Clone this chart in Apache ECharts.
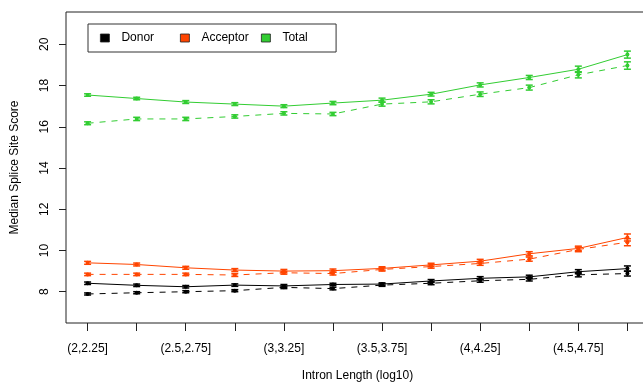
<!DOCTYPE html>
<html>
<head>
<meta charset="utf-8">
<script src="https://cdn.jsdelivr.net/npm/echarts@6/dist/echarts.min.js"></script>
<style>html,body{margin:0;padding:0;background:#fff}#c{width:643px;height:383px}</style>
</head>
<body>
<div id="c"></div>
<script>
const categories = ['(2,2.25]','(2.25,2.5]','(2.5,2.75]','(2.75,3]','(3,3.25]','(3.25,3.5]','(3.5,3.75]','(3.75,4]','(4,4.25]','(4.25,4.5]','(4.5,4.75]','(4.75,5]'];
const yTicks = [8, 10, 12, 14, 16, 18, 20];
const xLabelIdx = [1, 3, 5, 7, 9, 11];
const legendNames = ['Donor', 'Acceptor', 'Total'];

const donorSolid     = [8.41, 8.31, 8.24, 8.32, 8.28, 8.35, 8.37, 8.52, 8.65, 8.72, 8.97, 9.12];
const donorSolidErr  = [0.06, 0.06, 0.06, 0.06, 0.07, 0.06, 0.06, 0.07, 0.08, 0.08, 0.10, 0.13];
const donorDashed    = [7.89, 7.95, 8.00, 8.05, 8.21, 8.15, 8.32, 8.41, 8.53, 8.60, 8.82, 8.88];
const donorDashedErr = [0.05, 0.05, 0.05, 0.05, 0.06, 0.06, 0.06, 0.07, 0.07, 0.08, 0.10, 0.12];

const acceptorSolid     = [9.40, 9.32, 9.16, 9.05, 9.00, 9.02, 9.13, 9.30, 9.48, 9.84, 10.10, 10.63];
const acceptorSolidErr  = [0.07, 0.07, 0.07, 0.07, 0.08, 0.08, 0.08, 0.08, 0.09, 0.10, 0.11, 0.17];
const acceptorDashed    = [8.84, 8.84, 8.84, 8.81, 8.92, 8.88, 9.08, 9.22, 9.37, 9.58, 10.05, 10.40];
const acceptorDashedErr = [0.06, 0.06, 0.06, 0.07, 0.07, 0.07, 0.08, 0.08, 0.09, 0.10, 0.11, 0.17];

const totalSolid     = [17.54, 17.37, 17.20, 17.10, 17.00, 17.15, 17.29, 17.58, 18.03, 18.39, 18.79, 19.50];
const totalSolidErr  = [0.06, 0.06, 0.07, 0.07, 0.07, 0.08, 0.10, 0.09, 0.10, 0.10, 0.15, 0.17];
const totalDashed    = [16.17, 16.38, 16.38, 16.50, 16.65, 16.62, 17.10, 17.21, 17.58, 17.90, 18.52, 18.97];
const totalDashedErr = [0.07, 0.08, 0.08, 0.08, 0.08, 0.08, 0.10, 0.10, 0.11, 0.12, 0.15, 0.18];

const COLORS = { Donor: '#000000', Acceptor: '#FF4500', Total: '#32CD32' };
const FONT = '"Liberation Sans", Arial, Helvetica, sans-serif';

function pts(vals) { return vals.map((v, i) => [i + 1, v]); }
function errPts(vals, errs) { return vals.map((v, i) => [i + 1, v, errs[i]]); }

function lineSeries(name, vals, dashed) {
  return {
    type: 'line', name: name, data: pts(vals), symbol: 'none', silent: true,
    lineStyle: { color: COLORS[name], width: 1, type: dashed ? [6, 6] : 'solid' },
    itemStyle: { color: COLORS[name] }, z: 2
  };
}
function errSeries(name, vals, errs) {
  const color = COLORS[name];
  return {
    type: 'custom', data: errPts(vals, errs), silent: true, z: 3,
    renderItem: function (params, api) {
      const x = api.value(0), y = api.value(1), e = api.value(2);
      const lo = api.coord([x, y - e]), hi = api.coord([x, y + e]), c = api.coord([x, y]);
      const hw = 3.5;
      const st = { stroke: color, lineWidth: 1.5 };
      return { type: 'group', children: [
        { type: 'line', shape: { x1: lo[0], y1: lo[1], x2: hi[0], y2: hi[1] }, style: st },
        { type: 'line', shape: { x1: lo[0] - hw, y1: lo[1], x2: lo[0] + hw, y2: lo[1] }, style: st },
        { type: 'line', shape: { x1: hi[0] - hw, y1: hi[1], x2: hi[0] + hw, y2: hi[1] }, style: st },
        { type: 'circle', shape: { cx: c[0], cy: c[1], r: 2 }, style: { fill: color } }
      ]};
    }
  };
}

function legendFor(name, left, padding, boxed) {
  return {
    left: left, top: 24, orient: 'horizontal', selectedMode: false,
    itemWidth: 9, itemHeight: 8, itemGap: 0, padding: padding,
    borderColor: boxed ? '#333' : 'transparent', borderWidth: boxed ? 1 : 0, borderRadius: 0,
    textStyle: { fontSize: 12, color: '#000', fontFamily: FONT, padding: [0, 0, 0, 7] },
    data: [{ name: name, icon: 'rect', itemStyle: { color: COLORS[name], borderColor: '#222', borderWidth: 0.8 } }]
  };
}

const chart = echarts.init(document.getElementById('c'), null, { renderer: 'canvas' });
chart.setOption({
  animation: false,
  backgroundColor: '#fff',
  textStyle: { fontFamily: FONT },
  grid: { left: 66, top: 12, right: -6, bottom: 60, show: true, borderColor: '#222', borderWidth: 1,
    containLabel: false, outerBoundsMode: 'none' },
  legend: [
    legendFor(legendNames[0], 88, [8, 182, 8, 12], true),
    legendFor(legendNames[1], 180, [8, 0, 8, 0], false),
    legendFor(legendNames[2], 261, [8, 0, 8, 0], false)
  ],
  xAxis: {
    type: 'value', min: 0.56, max: 12.44,
    name: 'Intron Length (log10)', nameLocation: 'middle', nameGap: 47,
    nameTextStyle: { fontSize: 12, color: '#000', fontFamily: FONT },
    axisLine: { show: false }, splitLine: { show: false },
    axisTick: { show: true, inside: false, length: 8, customValues: categories.map((c, i) => i + 1), lineStyle: { color: '#222', width: 1 } },
    axisLabel: { show: true, customValues: xLabelIdx, margin: 20, fontSize: 12, color: '#000', fontFamily: FONT,
      formatter: v => categories[Math.round(v) - 1] }
  },
  yAxis: {
    type: 'value', min: 6.482, max: 21.567,
    name: 'Median Splice Site Score', nameLocation: 'middle', nameGap: 45, nameRotate: 90,
    nameTextStyle: { fontSize: 12, color: '#000', fontFamily: FONT },
    axisLine: { show: false }, splitLine: { show: false },
    axisTick: { show: true, inside: false, length: 7, customValues: yTicks, lineStyle: { color: '#222', width: 1 } },
    axisLabel: { show: true, customValues: yTicks, rotate: 90, margin: 15, fontSize: 12, color: '#000', fontFamily: FONT }
  },
  series: [
    lineSeries('Donor', donorSolid, false),
    lineSeries('Donor', donorDashed, true),
    lineSeries('Acceptor', acceptorSolid, false),
    lineSeries('Acceptor', acceptorDashed, true),
    lineSeries('Total', totalSolid, false),
    lineSeries('Total', totalDashed, true),
    errSeries('Donor', donorSolid, donorSolidErr),
    errSeries('Donor', donorDashed, donorDashedErr),
    errSeries('Acceptor', acceptorSolid, acceptorSolidErr),
    errSeries('Acceptor', acceptorDashed, acceptorDashedErr),
    errSeries('Total', totalSolid, totalSolidErr),
    errSeries('Total', totalDashed, totalDashedErr)
  ]
});
</script>
</body>
</html>
